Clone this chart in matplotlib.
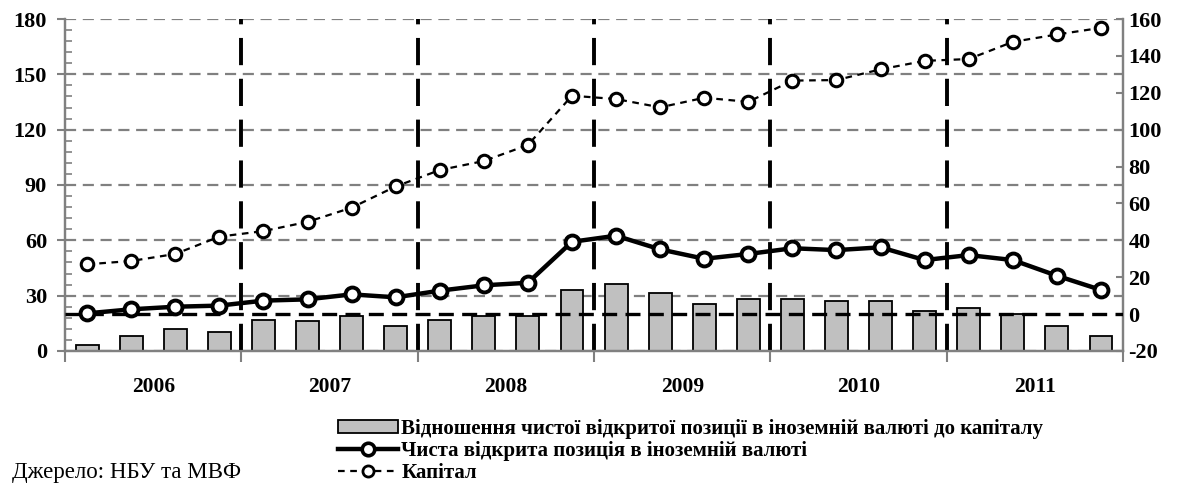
import matplotlib.pyplot as plt
from matplotlib.lines import Line2D
from matplotlib.patches import Patch
from matplotlib.ticker import MultipleLocator, FixedLocator
import numpy as np

years = ["2006", "2007", "2008", "2009", "2010", "2011"]

# quarterly values, 2006Q1 .. 2011Q4
ratio = [3.3, 8.3, 11.8, 10.5, 16.8, 16.4, 19.0, 13.4,
         16.8, 19.0, 19.0, 33.0, 36.3, 31.3, 25.5, 28.2,
         28.2, 27.0, 27.0, 21.7, 23.1, 19.9, 13.5, 8.1]
net_position = [0.4, 2.6, 4.0, 4.6, 7.3, 8.0, 10.7, 9.1,
                12.7, 15.6, 17.0, 39.2, 42.5, 35.1, 30.0, 32.6,
                35.7, 34.7, 36.2, 29.3, 32.0, 29.3, 20.8, 13.1]
capital = [27.0, 28.8, 32.6, 42.0, 45.0, 50.0, 57.7, 69.2,
           78.1, 83.0, 91.7, 118.4, 116.6, 112.1, 117.3, 115.1,
           126.6, 126.9, 132.7, 137.3, 138.3, 147.6, 151.6, 155.2]

legend_labels = [
    "Відношення чистої відкритої позиції в іноземній валюті до капіталу",
    "Чиста відкрита позиція в іноземній валюті",
    "Капітал",
]
source = "Джерело: НБУ та МВФ"

plt.rcParams["font.family"] = ["Liberation Serif", "DejaVu Serif"]
plt.rcParams["axes.unicode_minus"] = False
GRID = "#808080"

fig = plt.figure(figsize=(11.85, 4.86), dpi=100)
ax = fig.add_axes([0.0549, 0.2778, 0.8928, 0.6831])
ax2 = ax.twinx()

x = np.arange(len(ratio))
ax.bar(x, ratio, width=0.52, color="#c0c0c0", edgecolor="black", linewidth=1.3, zorder=2)
ax.set_xlim(-0.5, len(ratio) - 0.5)
ax.set_ylim(0, 180)
ax.yaxis.set_major_locator(MultipleLocator(30))
ax.yaxis.set_minor_locator(MultipleLocator(6))
ax.yaxis.grid(True, which="major", color=GRID, linestyle=(0, (5, 3)), linewidth=1.6, zorder=0)
ax.set_axisbelow(True)

# year separators and ticks
bounds = np.arange(0, len(ratio) + 1, 4) - 0.5
ax.xaxis.set_major_locator(FixedLocator(bounds))
ax.xaxis.set_minor_locator(FixedLocator(bounds[:-1] + 2))
ax.set_xticklabels([], minor=False)
ax.set_xticklabels(years, minor=True)
for b in bounds[1:-1]:
    ax.axvline(b, color="black", linestyle=(0, (7, 3.5)), linewidth=2.8, zorder=3)

ax2.set_ylim(-20, 160)
ax2.yaxis.set_major_locator(MultipleLocator(20))
ax2.axhline(0, color="black", linestyle=(0, (4.5, 2.5)), linewidth=2.4, zorder=3)
ax2.plot(x, capital, color="black", linestyle=(0, (3, 2.5)), linewidth=1.6,
         marker="o", markersize=9, markerfacecolor="white", markeredgewidth=2.2, zorder=4)
ax2.plot(x, net_position, color="black", linewidth=3.2,
         marker="o", markersize=10, markerfacecolor="white", markeredgewidth=2.8, zorder=5)

for a in (ax, ax2):
    for side in ("left", "right", "bottom"):
        a.spines[side].set_color(GRID)
        a.spines[side].set_linewidth(1.6)
    a.spines["top"].set_visible(False)

ax.tick_params(axis="y", which="major", direction="out", length=6, width=1.5, color=GRID, pad=7, labelsize=16)
ax.tick_params(axis="y", which="minor", direction="in", length=5, width=1.2, color=GRID)
ax.tick_params(axis="x", which="major", direction="out", length=8, width=1.5, color=GRID)
ax.tick_params(axis="x", which="minor", length=0, pad=19, labelsize=15.5)
ax2.tick_params(axis="y", direction="in", length=5, width=1.5, color=GRID, pad=4, labelsize=16)
for lab in ax.get_yticklabels() + ax2.get_yticklabels() + ax.get_xticklabels(minor=True):
    lab.set_fontweight("bold")

handles = [
    Patch(facecolor="#c0c0c0", edgecolor="black", linewidth=1.3),
    Line2D([], [], color="black", linewidth=3.2, marker="o", markersize=9,
           markerfacecolor="white", markeredgewidth=2.6),
    Line2D([], [], color="black", linestyle=(0, (3, 2.5)), linewidth=1.6, marker="o",
           markersize=8, markerfacecolor="white", markeredgewidth=2.0),
]
fig.legend(handles, legend_labels, loc="upper left", bbox_to_anchor=(0.278, 0.155),
           frameon=False, handlelength=2.9, handleheight=0.6,
           handletextpad=0.15, labelspacing=0.1, borderaxespad=0,
           prop=dict(size=15, weight="bold"))

fig.text(0.01, 0.006, source, fontsize=16.5, ha="left", va="bottom")

fig.savefig("out.png", dpi=100)
